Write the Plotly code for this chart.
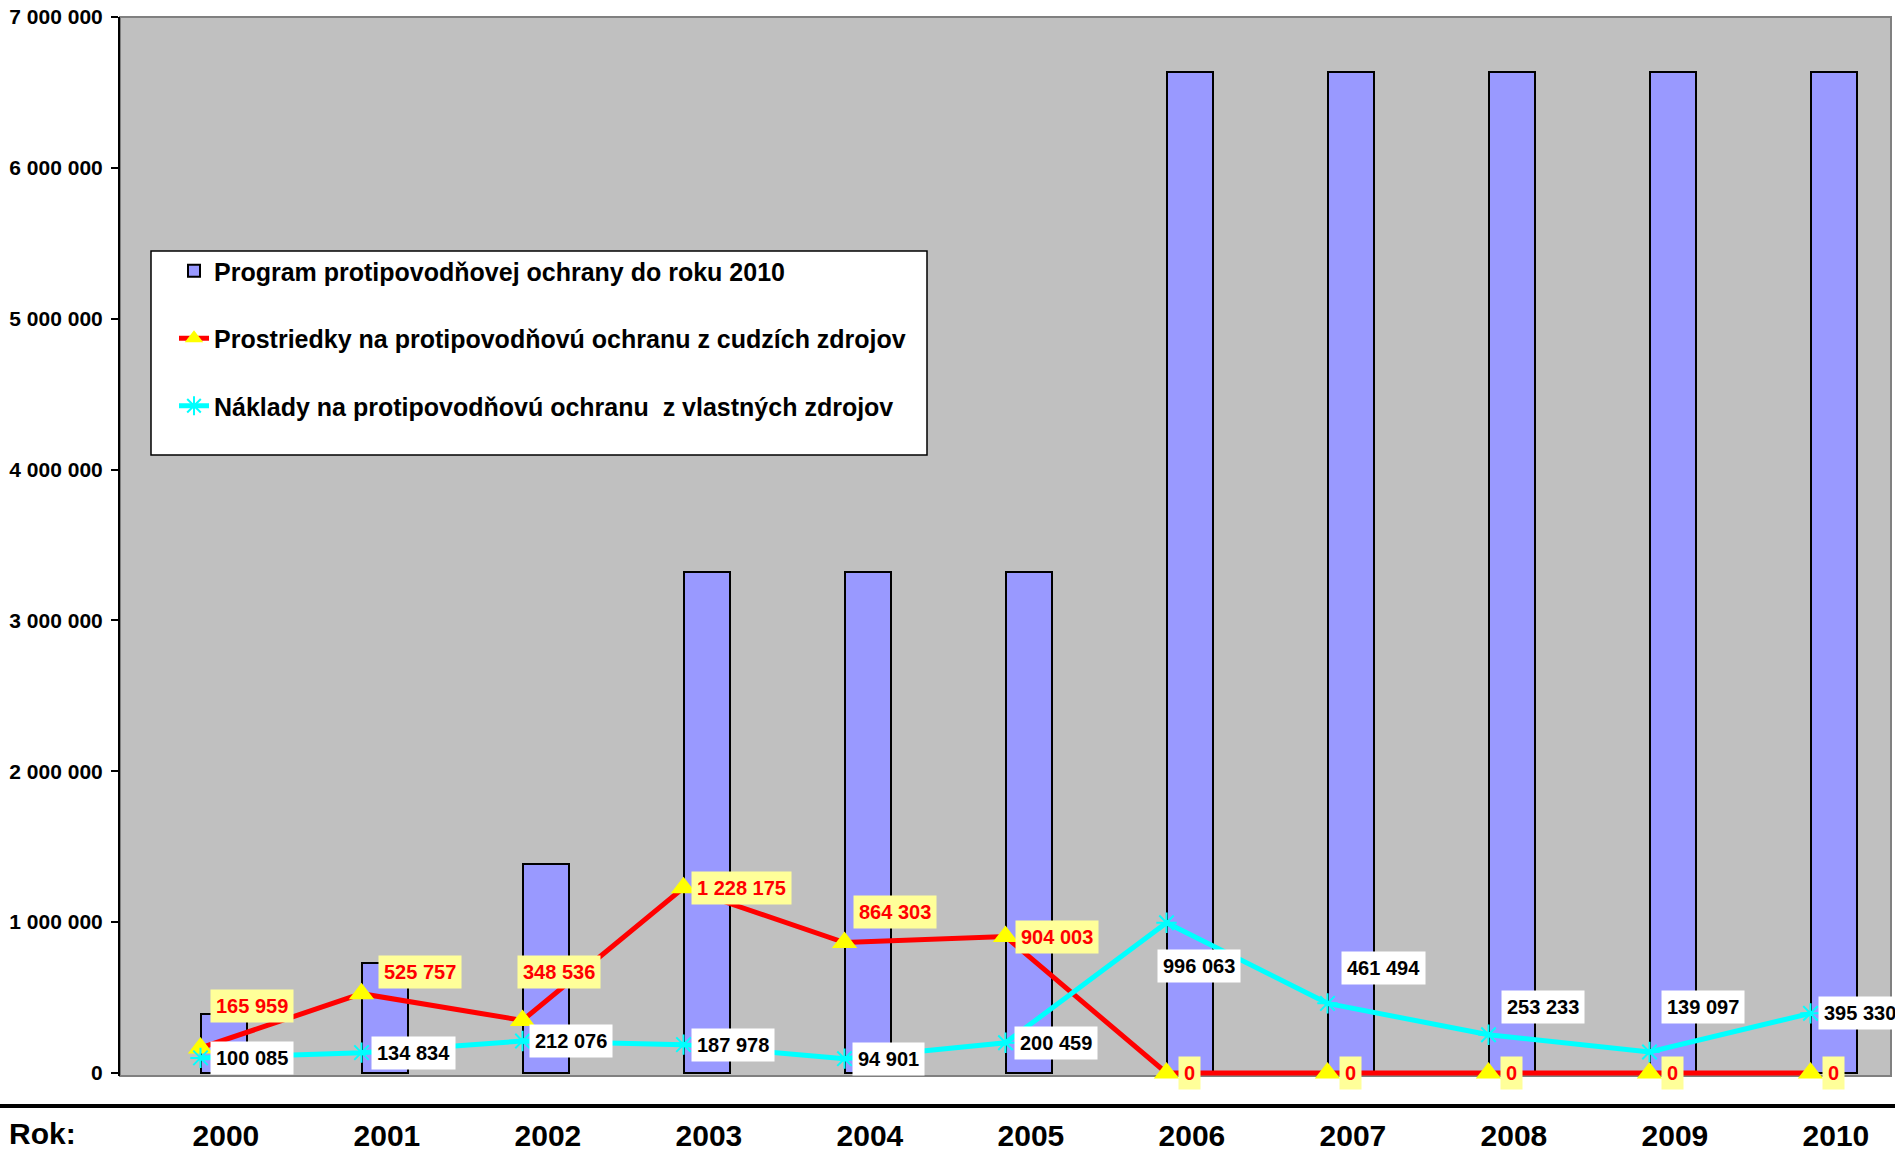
import plotly.graph_objects as go

# ---------------- data ----------------
years = ["2000", "2001", "2002", "2003", "2004", "2005", "2006", "2007", "2008", "2009", "2010"]
program = [391000, 729000, 1385000, 3320000, 3320000, 3320000, 6635000, 6635000, 6635000, 6635000, 6635000]
cudzie = [165959, 525757, 348536, 1228175, 864303, 904003, 0, 0, 0, 0, 0]
vlastne = [100085, 134834, 212076, 187978, 94901, 200459, 996063, 461494, 253233, 139097, 395330]
y_ticks = [0, 1000000, 2000000, 3000000, 4000000, 5000000, 6000000, 7000000]

name_bar = "Program protipovodňovej ochrany do roku 2010"
name_red = "Prostriedky na protipovodňovú ochranu z cudzích zdrojov"
name_cyan = "Náklady na protipovodňovú ochranu  z vlastných zdrojov"

# label offsets in pixels (style only)
red_dx = [9, 16, -6, 7, 8, 9, 11, 11, 11, 11, 11]
red_dy = [42, 22, 48, 0, 31, 0, 0, 0, 0, 0, 0]
cyan_dx = [9, 9, 6, 7, 7, 8, -10, 13, 12, 11, 7]
cyan_dy = [0, 0, 0, 0, 0, 0, -43, 35, 28, 45, 0]

FONT = "Liberation Sans, Arial, sans-serif"
W, H = 1895, 1155
ML, MR, MT, MB = 120, 4, 17, 79
PW, PH = W - ML - MR, H - MT - MB

idx = list(range(len(years)))
BAR_W = 0.286


def fmt(v):
    return f"{v:,}".replace(",", " ")


fig = go.Figure()
fig.add_trace(go.Bar(
    x=idx, y=program, width=BAR_W, offset=0, name=name_bar, legendgroup="a",
    marker=dict(color="#9999FF", line=dict(color="#000000", width=2)),
))
fig.add_trace(go.Scatter(
    x=idx, y=cudzie, mode="lines+markers", name=name_red, legendgroup="b",
    line=dict(color="#FF0000", width=5),
    marker=dict(symbol="triangle-up", size=22, color="#FFFF00", line=dict(width=0)),
    cliponaxis=False,
))
fig.add_trace(go.Scatter(
    x=idx, y=vlastne, mode="lines+markers", name=name_cyan, legendgroup="c",
    line=dict(color="#00FFFF", width=5),
    marker=dict(symbol="asterisk-open", size=17, color="#00FFFF",
                line=dict(color="#00FFFF", width=2)),
    cliponaxis=False,
))

annotations = []
for i, v in enumerate(cudzie):
    annotations.append(dict(
        x=idx[i], y=v, xref="x", yref="y", text=fmt(v), showarrow=False,
        xanchor="left", yanchor="middle", xshift=red_dx[i], yshift=red_dy[i],
        bgcolor="#FFFF99", borderpad=5,
        font=dict(family=FONT, size=20, color="#FF0000", weight="bold"),
    ))
for i, v in enumerate(vlastne):
    annotations.append(dict(
        x=idx[i], y=v, xref="x", yref="y", text=fmt(v), showarrow=False,
        xanchor="left", yanchor="middle", xshift=cyan_dx[i], yshift=cyan_dy[i],
        bgcolor="#FFFFFF", borderpad=5,
        font=dict(family=FONT, size=20, color="#000000", weight="bold"),
    ))
annotations.append(dict(
    x=(7 - ML) / PW, y=(MT + PH - 1133) / PH, xref="paper", yref="paper",
    text="Rok:", showarrow=False, xanchor="left", yanchor="middle",
    font=dict(family=FONT, size=30, color="#000000", weight="bold"),
))

shapes = [
    # plot border (gray)
    dict(type="rect", xref="paper", yref="paper", x0=0, x1=1, y0=0, y1=1,
         line=dict(color="#808080", width=2), layer="below"),
    # thick separator line above year row
    dict(type="line", xref="paper", yref="paper", x0=-ML / PW, x1=1.01,
         y0=(MT + PH - 1106) / PH, y1=(MT + PH - 1106) / PH,
         line=dict(color="#000000", width=4)),
    # legend box
    dict(type="rect", xref="paper", yref="paper",
         x0=(151 - ML) / PW, x1=(927 - ML) / PW,
         y0=(MT + PH - 455) / PH, y1=(MT + PH - 251) / PH,
         fillcolor="#FFFFFF", line=dict(color="#000000", width=1.5), layer="above"),
]

fig.update_layout(
    width=W, height=H,
    margin=dict(l=ML, r=MR, t=MT, b=MB, autoexpand=False),
    paper_bgcolor="#FFFFFF", plot_bgcolor="#C0C0C0",
    separators=", ",
    font=dict(family=FONT, color="#000000"),
    showlegend=True,
    legend=dict(
        x=(174 - ML) / PW, y=(MT + PH - 248) / PH, xanchor="left", yanchor="top",
        bgcolor="rgba(0,0,0,0)", borderwidth=0,
        font=dict(family=FONT, size=25, color="#000000", weight="bold"),
        traceorder="grouped", tracegroupgap=32,
    ),
    annotations=annotations,
    shapes=shapes,
    bargap=0,
)
fig.update_xaxes(
    range=[-0.5, len(years) - 0.5], automargin=False,
    tickvals=[i + BAR_W / 2 + 0.015 for i in idx], ticktext=years,
    ticks="outside", ticklen=33, tickcolor="rgba(0,0,0,0)",
    tickfont=dict(family=FONT, size=30, color="#000000", weight="bold"),
    showgrid=False, zeroline=False, showline=False,
)
fig.update_yaxes(
    range=[-20000, 7000000], automargin=False,
    tickvals=y_ticks, tickformat=",.0f",
    ticks="outside", ticklen=7, tickwidth=2, tickcolor="#000000",
    ticklabelstandoff=4,
    tickfont=dict(family=FONT, size=21, color="#000000", weight="bold"),
    showline=True, linecolor="#000000", linewidth=2,
    showgrid=False, zeroline=False, layer="below traces",
)

fig.write_html(
    "out.html",
    config={"displayModeBar": False},
    post_script="document.body.style.margin='0';document.body.style.overflow='hidden';",
)
